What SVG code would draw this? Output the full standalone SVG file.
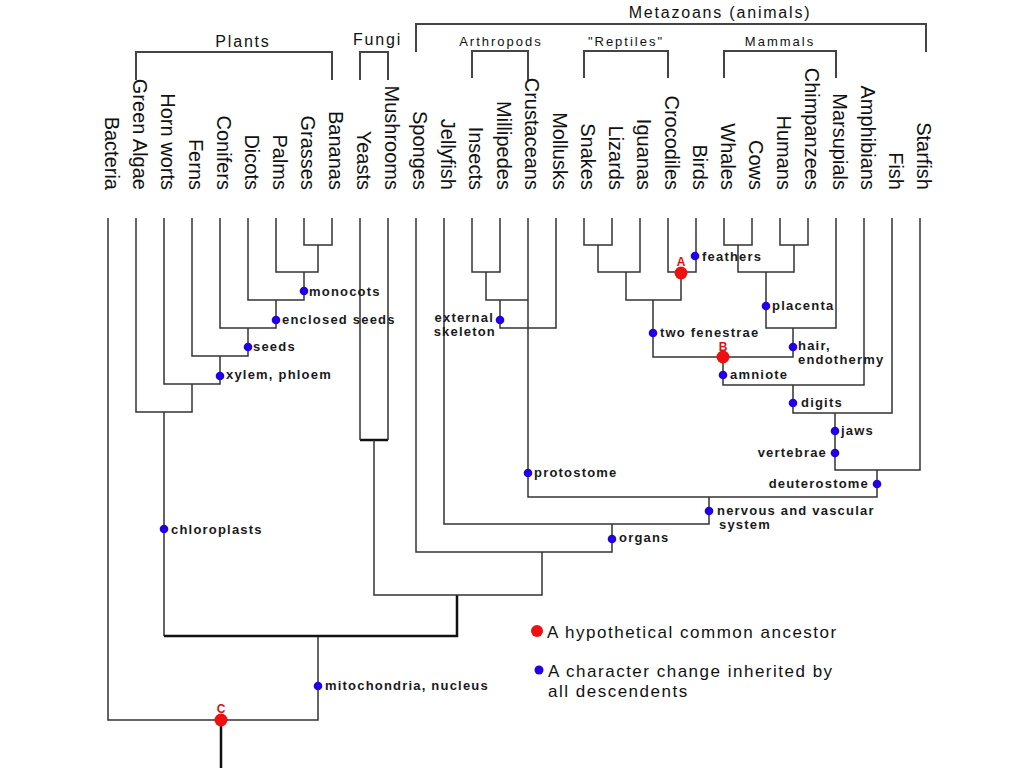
<svg xmlns="http://www.w3.org/2000/svg" width="1024" height="768" viewBox="0 0 1024 768">
<style>
.ln{stroke:#333;stroke-width:1.5;fill:none}
.thk{stroke:#111;stroke-width:2.5;fill:none}
.br{stroke:#444;stroke-width:2;fill:none}
text{font-family:"Liberation Sans",Arial,Helvetica,sans-serif;fill:#111}
.tx{font-size:20px;text-anchor:end}
.hd{font-size:16px;letter-spacing:1.8px}
.sh{font-size:13px;letter-spacing:2px;text-anchor:middle}
.ch{font-size:13px;letter-spacing:1.2px;font-weight:bold;fill:#1a1a1a}
.lg{font-size:17px;letter-spacing:1.5px}
.rl{font-size:12px;font-weight:bold;fill:#e01010;text-anchor:middle}
.bd{fill:#2200e6}
.rd{fill:#ee1010}
</style>
<rect width="1024" height="768" fill="#fff"/>

<g id="groups">
  <g id="g-plants"><path class="br" d="M136,80V52H332V80"/><text class="hd" x="243" y="47" text-anchor="middle">Plants</text></g>
  <g id="g-fungi"><path class="br" d="M360,80V52H388V80"/><text class="hd" x="353" y="45">Fungi</text></g>
  <g id="g-metazoans"><path class="br" d="M416,52V24H926V52"/><text class="hd" x="720" y="18" text-anchor="middle">Metazoans (animals)</text></g>
  <g id="g-arthropods"><path class="br" d="M472,78V51H528V80"/><text class="sh" x="501" y="46">Arthropods</text></g>
  <g id="g-reptiles"><path class="br" d="M584,78V51H668V78"/><text class="sh" x="626" y="46">"Reptiles"</text></g>
  <g id="g-mammals"><path class="br" d="M724,78V51H836V78"/><text class="sh" x="780" y="46">Mammals</text></g>
</g>

<g id="taxa">
  <g id="t-bacteria"><text class="tx" transform="translate(105,190) rotate(90)">Bacteria</text></g>
  <g id="t-greenalgae"><text class="tx" transform="translate(133,190) rotate(90)">Green Algae</text></g>
  <g id="t-hornworts"><text class="tx" transform="translate(161,190) rotate(90)">Horn worts</text></g>
  <g id="t-ferns"><text class="tx" transform="translate(189,190) rotate(90)">Ferns</text></g>
  <g id="t-conifers"><text class="tx" transform="translate(217,190) rotate(90)">Conifers</text></g>
  <g id="t-dicots"><text class="tx" transform="translate(245,190) rotate(90)">Dicots</text></g>
  <g id="t-palms"><text class="tx" transform="translate(273,190) rotate(90)">Palms</text></g>
  <g id="t-grasses"><text class="tx" transform="translate(301,190) rotate(90)">Grasses</text></g>
  <g id="t-bananas"><text class="tx" transform="translate(329,190) rotate(90)">Bananas</text></g>
  <g id="t-yeasts"><text class="tx" transform="translate(357,190) rotate(90)">Yeasts</text></g>
  <g id="t-mushrooms"><text class="tx" transform="translate(385,190) rotate(90)">Mushrooms</text></g>
  <g id="t-sponges"><text class="tx" transform="translate(413,190) rotate(90)">Sponges</text></g>
  <g id="t-jellyfish"><text class="tx" transform="translate(441,190) rotate(90)">Jellyfish</text></g>
  <g id="t-insects"><text class="tx" transform="translate(469,190) rotate(90)">Insects</text></g>
  <g id="t-millipedes"><text class="tx" transform="translate(497,190) rotate(90)">Millipedes</text></g>
  <g id="t-crustaceans"><text class="tx" transform="translate(525,190) rotate(90)">Crustaceans</text></g>
  <g id="t-mollusks"><text class="tx" transform="translate(553,190) rotate(90)">Mollusks</text></g>
  <g id="t-snakes"><text class="tx" transform="translate(581,190) rotate(90)">Snakes</text></g>
  <g id="t-lizards"><text class="tx" transform="translate(609,190) rotate(90)">Lizards</text></g>
  <g id="t-iguanas"><text class="tx" transform="translate(637,190) rotate(90)">Iguanas</text></g>
  <g id="t-crocodiles"><text class="tx" transform="translate(665,190) rotate(90)">Crocodiles</text></g>
  <g id="t-birds"><text class="tx" transform="translate(693,190) rotate(90)">Birds</text></g>
  <g id="t-whales"><text class="tx" transform="translate(721,190) rotate(90)">Whales</text></g>
  <g id="t-cows"><text class="tx" transform="translate(749,190) rotate(90)">Cows</text></g>
  <g id="t-humans"><text class="tx" transform="translate(777,190) rotate(90)">Humans</text></g>
  <g id="t-chimpanzees"><text class="tx" transform="translate(805,190) rotate(90)">Chimpanzees</text></g>
  <g id="t-marsupials"><text class="tx" transform="translate(833,190) rotate(90)">Marsupials</text></g>
  <g id="t-amphibians"><text class="tx" transform="translate(861,190) rotate(90)">Amphibians</text></g>
  <g id="t-fish"><text class="tx" transform="translate(889,190) rotate(90)">Fish</text></g>
  <g id="t-starfish"><text class="tx" transform="translate(917,190) rotate(90)">Starfish</text></g>
</g>

<g id="connectors">
  <path class="ln" d="M108,218V720H318V636 M136,218V412H192V384 M164,218V384H220V356 M192,218V356H248V328 M220,218V328H276V300 M248,218V300H304V272 M276,218V272H318V245 M304,218V245H332V218 M164,412V636"/>
  <path class="thk" d="M164,636H457V595 M221,720V768 M360,440H388"/>
  <path class="ln" d="M360,218V440 M388,218V440 M374,440V595H542V552"/>
  <path class="ln" d="M416,218V552H612V524 M444,218V524H709V497 M528,218V497H877V470 M472,218V272H500V218 M486,272V300H528 M500,300V328H556V218"/>
  <path class="ln" d="M584,218V245H612V218 M598,245V272H640V218 M626,272V300H681V272 M668,218V272H696V218 M653,300V357H793V328 M723,357V385H864V218"/>
  <path class="ln" d="M724,218V245H752V218 M780,218V245H808V218 M738,245V272H794V245 M766,272V328H836V218 M793,385V413H892V218 M835,413V470H920V218"/>
</g>

<g id="ancestors">
  <g id="anc-a"><circle class="rd" cx="681" cy="273" r="6.5"/><text class="rl" x="681" y="266">A</text></g>
  <g id="anc-b"><circle class="rd" cx="723" cy="357" r="6.5"/><text class="rl" x="723" y="351">B</text></g>
  <g id="anc-c"><circle class="rd" cx="221" cy="720" r="6.5"/><text class="rl" x="221" y="713">C</text></g>
</g>

<g id="characters">
  <g id="c-monocots"><circle class="bd" cx="304" cy="291" r="4.3"/><text class="ch" x="309" y="296">monocots</text></g>
  <g id="c-enclosed"><circle class="bd" cx="276" cy="320" r="4.3"/><text class="ch" x="282" y="324">enclosed seeds</text></g>
  <g id="c-seeds"><circle class="bd" cx="248" cy="347" r="4.3"/><text class="ch" x="253" y="351">seeds</text></g>
  <g id="c-xylem"><circle class="bd" cx="220" cy="376" r="4.3"/><text class="ch" x="226" y="379">xylem, phloem</text></g>
  <g id="c-chloroplasts"><circle class="bd" cx="164" cy="529" r="4.3"/><text class="ch" x="171" y="534">chloroplasts</text></g>
  <g id="c-mito"><circle class="bd" cx="318" cy="686" r="4.3"/><text class="ch" x="325" y="690">mitochondria, nucleus</text></g>
  <g id="c-exoskeleton"><circle class="bd" cx="500" cy="320" r="4.3"/><text class="ch" x="494" y="322" text-anchor="end">external</text><text class="ch" x="496" y="336" text-anchor="end">skeleton</text></g>
  <g id="c-feathers"><circle class="bd" cx="695" cy="256" r="4.3"/><text class="ch" x="702" y="261">feathers</text></g>
  <g id="c-fenestrae"><circle class="bd" cx="653" cy="333" r="4.3"/><text class="ch" x="660" y="337">two fenestrae</text></g>
  <g id="c-placenta"><circle class="bd" cx="766" cy="306" r="4.3"/><text class="ch" x="772" y="310">placenta</text></g>
  <g id="c-hair"><circle class="bd" cx="793" cy="347" r="4.3"/><text class="ch" x="798" y="350">hair,</text><text class="ch" x="798" y="364">endothermy</text></g>
  <g id="c-amniote"><circle class="bd" cx="723" cy="375" r="4.3"/><text class="ch" x="730" y="379">amniote</text></g>
  <g id="c-digits"><circle class="bd" cx="793" cy="403" r="4.3"/><text class="ch" x="801" y="407">digits</text></g>
  <g id="c-jaws"><circle class="bd" cx="835" cy="431" r="4.3"/><text class="ch" x="841" y="435">jaws</text></g>
  <g id="c-vertebrae"><circle class="bd" cx="835" cy="453" r="4.3"/><text class="ch" x="827" y="457" text-anchor="end">vertebrae</text></g>
  <g id="c-deuterostome"><circle class="bd" cx="877" cy="484" r="4.3"/><text class="ch" x="869" y="488" text-anchor="end">deuterostome</text></g>
  <g id="c-protostome"><circle class="bd" cx="528" cy="473" r="4.3"/><text class="ch" x="534" y="477">protostome</text></g>
  <g id="c-nervous"><circle class="bd" cx="709" cy="511" r="4.3"/><text class="ch" x="717" y="515">nervous and vascular</text><text class="ch" x="719" y="529">system</text></g>
  <g id="c-organs"><circle class="bd" cx="612" cy="539" r="4.3"/><text class="ch" x="619" y="542">organs</text></g>
</g>

<g id="legend">
  <g id="leg-ancestor"><circle class="rd" cx="537" cy="631" r="6"/><text class="lg" x="547" y="638">A hypothetical common ancestor</text></g>
  <g id="leg-character"><circle class="bd" cx="539" cy="670" r="4.5"/><text class="lg" x="548" y="677">A character change inherited by</text><text class="lg" x="548" y="697">all descendents</text></g>
</g>
</svg>
